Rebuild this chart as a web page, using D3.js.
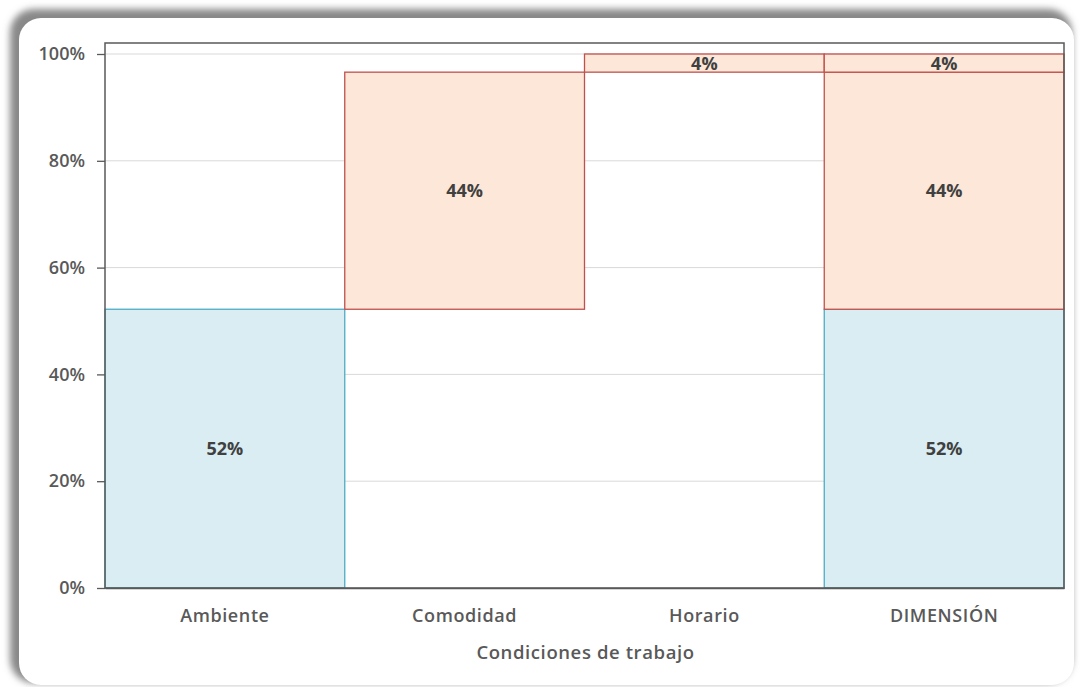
<!DOCTYPE html>
<html>
<head>
<meta charset="utf-8">
<script src="https://cdn.jsdelivr.net/npm/d3@7"></script>
<style>
  body { margin: 0; background: #fff; }
  svg text { font-family: "Open Sans", "Noto Sans", sans-serif; }
</style>
</head>
<body>
<script>
// Data (waterfall of shares, last column = total)
const categories = ["Ambiente", "Comodidad", "Horario", "DIMENSIÓN"];
const segStart   = [0, 52.2, 96.6];          // where each step starts
const segValue   = [52.2, 44.4, 3.4];        // height of each step
const segLabel   = ["52%", "44%", "4%"];
const segKind    = ["blue", "orange", "orange"];
const yTicks     = [0, 20, 40, 60, 80, 100];
const xTitle     = "Condiciones de trabajo";

const W = 1080, H = 687;
const margin = {top: 43, right: 16, bottom: 99, left: 105};
const width = W - margin.left - margin.right,
      height = H - margin.top - margin.bottom;

const svg = d3.select("body").append("svg")
  .attr("width", W).attr("height", H);

// card with grey shadow on top/left
const defs = svg.append("defs");
defs.append("filter").attr("id", "blur")
  .attr("x", "-5%").attr("y", "-5%").attr("width", "110%").attr("height", "110%")
  .append("feGaussianBlur").attr("stdDeviation", 3.5);

svg.append("rect")
  .attr("x", 10).attr("y", 9).attr("width", 1062).attr("height", 674)
  .attr("rx", 24).attr("fill", "#888").attr("filter", "url(#blur)");
svg.append("rect")
  .attr("x", 19).attr("y", 18).attr("width", 1055).attr("height", 667)
  .attr("rx", 22).attr("fill", "#fff");

const g = svg.append("g")
  .attr("transform", `translate(${margin.left},${margin.top})`);

const x = d3.scaleBand().domain(categories).range([0, width]).padding(0);
const y = d3.scaleLinear().domain([0, 102.06]).range([height, 0]);

// gridlines
g.append("g").selectAll("line")
  .data(yTicks.filter(d => d > 0))
  .join("line")
  .attr("x1", 0).attr("x2", width)
  .attr("y1", d => y(d)).attr("y2", d => y(d))
  .attr("stroke", "#d9d9d9").attr("stroke-width", 1);

// steps: one rect per category step, plus the total column repeating all of them
const colours = {
  blue:   {fill: "#daedf3", stroke: "#4bacc6"},
  orange: {fill: "#fde7d8", stroke: "#c0504d"}
};
const bars = [];
segValue.forEach((v, i) => {
  bars.push({cat: categories[i], start: segStart[i], value: v, label: segLabel[i], kind: segKind[i]});
  bars.push({cat: categories[3], start: segStart[i], value: v, label: segLabel[i], kind: segKind[i]});
});

g.append("g").selectAll("rect")
  .data(bars)
  .join("rect")
  .attr("x", d => x(d.cat))
  .attr("width", x.bandwidth())
  .attr("y", d => y(d.start + d.value))
  .attr("height", d => y(d.start) - y(d.start + d.value))
  .attr("fill", d => colours[d.kind].fill)
  .attr("stroke", d => colours[d.kind].stroke)
  .attr("stroke-width", 1.3);

g.append("g").selectAll("text")
  .data(bars)
  .join("text")
  .attr("x", d => x(d.cat) + x.bandwidth() / 2)
  .attr("y", d => y(d.start + d.value / 2))
  .attr("dy", "0.36em")
  .attr("text-anchor", "middle")
  .attr("font-size", 18).attr("font-weight", 700)
  .attr("fill", "#404040")
  .text(d => d.label);

// plot frame
g.append("rect")
  .attr("x", 0).attr("y", 0).attr("width", width).attr("height", height)
  .attr("fill", "none").attr("stroke", "#595959").attr("stroke-width", 1.5);

// y axis
const yAxis = g.append("g")
  .call(d3.axisLeft(y).tickValues(yTicks).tickSize(8).tickPadding(12)
    .tickFormat(d => d + "%"));
yAxis.select(".domain").remove();
yAxis.selectAll(".tick line").attr("stroke", "#595959").attr("stroke-width", 1.3);
yAxis.selectAll(".tick text")
  .attr("font-size", 18).attr("font-weight", 600).attr("fill", "#595959")
  .attr("font-family", "'Open Sans', sans-serif");

// x axis
const xAxis = g.append("g")
  .attr("transform", `translate(0,${height})`)
  .call(d3.axisBottom(x).tickSize(0).tickPadding(21));
xAxis.select(".domain").attr("stroke", "#595959").attr("stroke-width", 1.5);
xAxis.selectAll(".tick text")
  .attr("font-size", 18).attr("font-weight", 600).attr("fill", "#595959")
  .attr("letter-spacing", "0.6px")
  .attr("font-family", "'Open Sans', sans-serif");

g.append("text")
  .attr("x", width / 2 + 1).attr("y", height + 71)
  .attr("text-anchor", "middle")
  .attr("font-size", 18.5).attr("font-weight", 600).attr("fill", "#595959")
  .attr("letter-spacing", "0.6px")
  .text(xTitle);
</script>
</body>
</html>
